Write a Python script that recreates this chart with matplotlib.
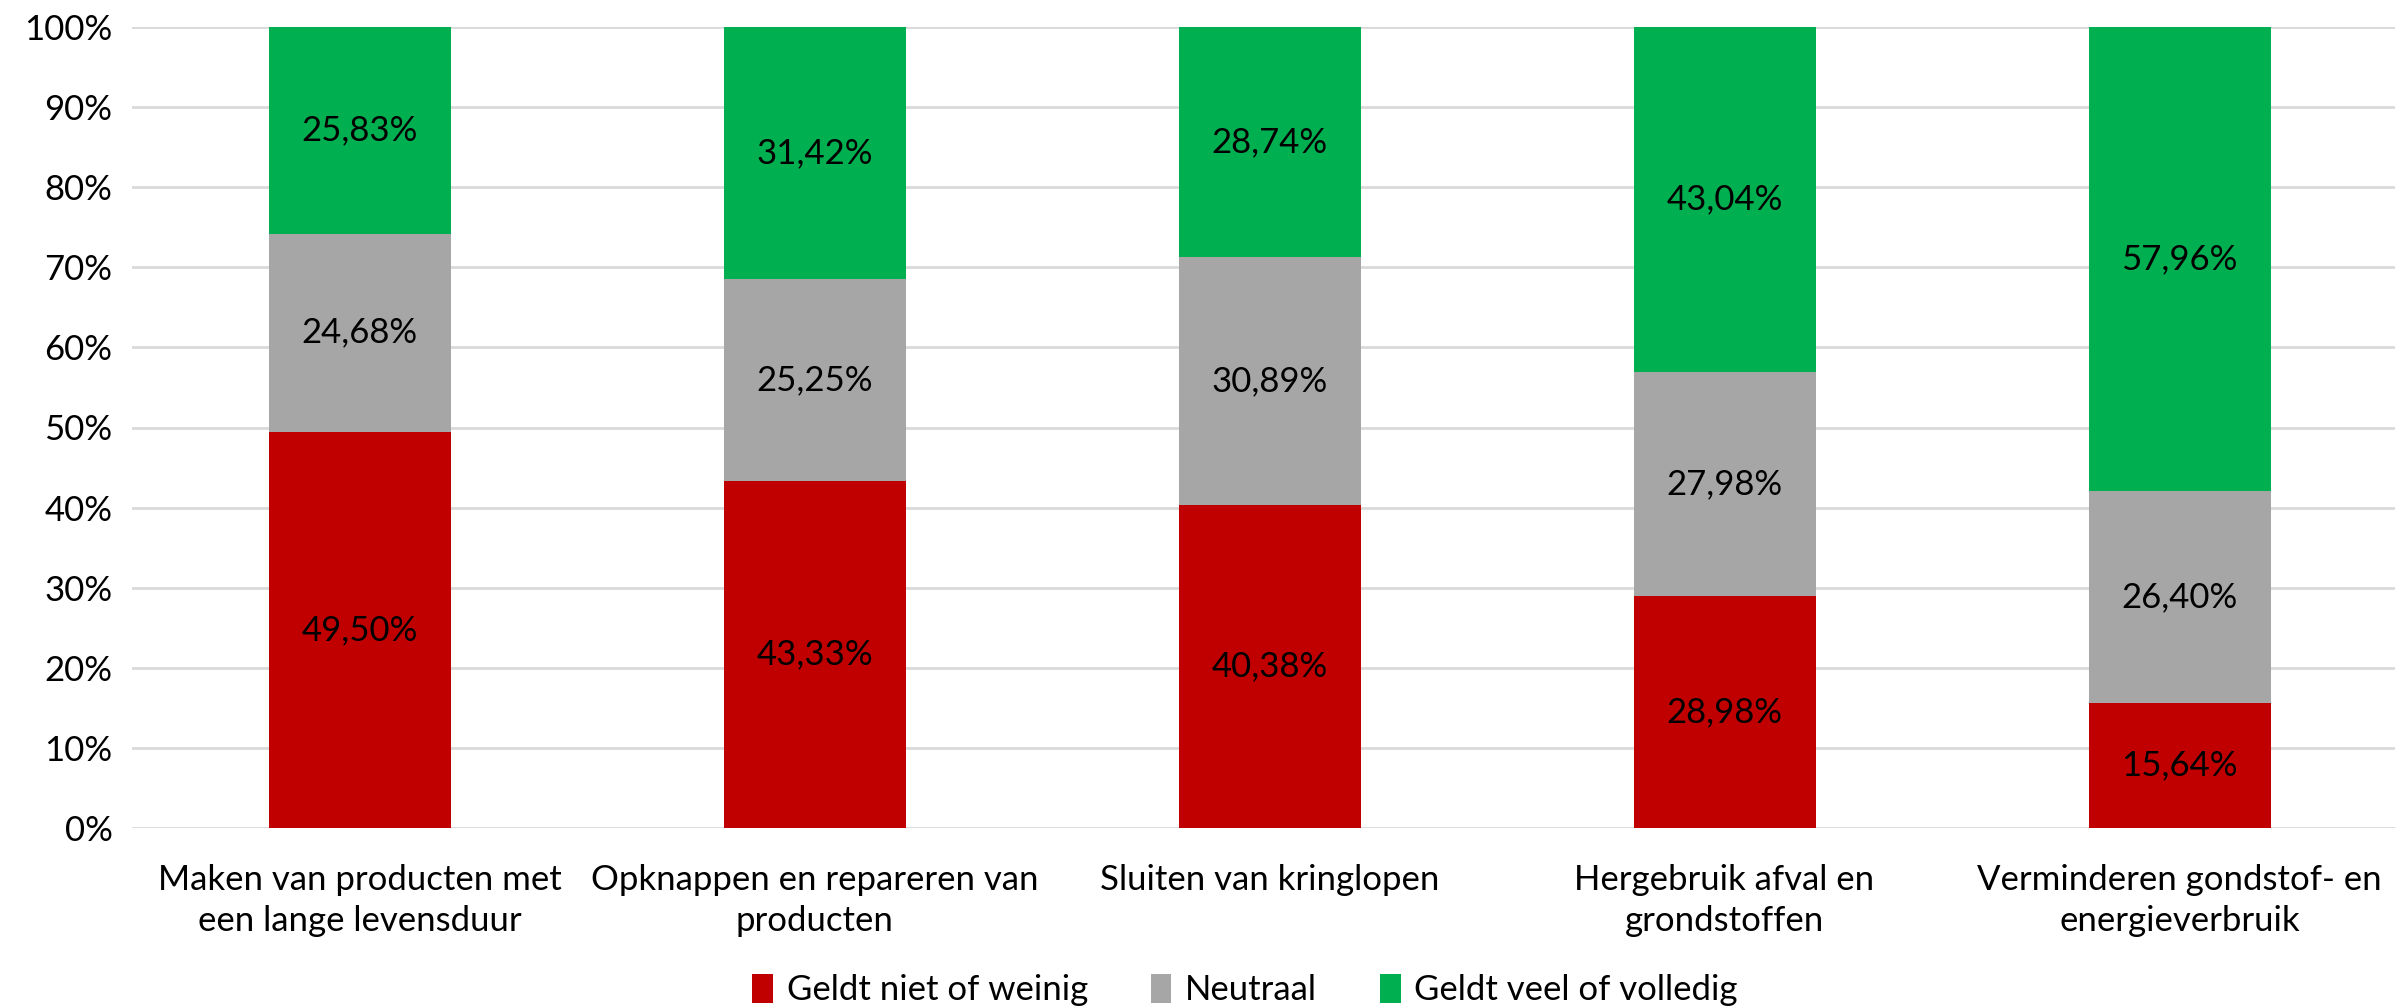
import matplotlib
matplotlib.use('Agg')
import matplotlib.pyplot as plt
import numpy as np

plt.rcParams['font.family'] = ['Lato', 'DejaVu Sans']

categories = ['Maken van producten met\neen lange levensduur',
              'Opknappen en repareren van\nproducten',
              'Sluiten van kringlopen',
              'Hergebruik afval en\ngrondstoffen',
              'Verminderen gondstof- en\nenergieverbruik']
niet_weinig = [49.50, 43.33, 40.38, 28.98, 15.64]
neutraal = [24.68, 25.25, 30.89, 27.98, 26.40]
veel_volledig = [25.83, 31.42, 28.74, 43.04, 57.96]
series_names = ['Geldt niet of weinig', 'Neutraal', 'Geldt veel of volledig']
colors = ['#C00000', '#A6A6A6', '#00B050']

fig = plt.figure(figsize=(23.95, 10.08), dpi=100)
ax = fig.add_axes([132/2395, 1-828/1008, (2407-132)/2395, (828-27)/1008])

x = np.arange(len(categories))
bottom = np.zeros(len(categories))
for vals, name, col in zip([niet_weinig, neutraal, veel_volledig], series_names, colors):
    vals = np.array(vals)
    ax.bar(x, vals, 0.4, bottom=bottom, color=col, label=name, zorder=2)
    for xi, b, v in zip(x, bottom, vals):
        ax.text(xi, b + v/2, f'{v:.2f}%'.replace('.', ','), ha='center', va='center',
                fontsize=25, color='black', zorder=3)
    bottom += vals

ax.set_xlim(-0.5, 4.5)
ax.set_ylim(0, 100)
ax.set_yticks(np.arange(0, 101, 10))
ax.set_yticklabels([f'{t}%' for t in range(0, 101, 10)], fontsize=25)
ax.set_xticks(x)
ax.set_xticklabels(categories, fontsize=25, linespacing=1.35)
ax.tick_params(axis='both', length=0)
ax.tick_params(axis='y', pad=14)
ax.tick_params(axis='x', pad=26)
ax.yaxis.grid(True, color='#D9D9D9', linewidth=2, zorder=0)
ax.set_axisbelow(True)
for s in ax.spines.values():
    s.set_visible(False)

fig.legend(loc='center', bbox_to_anchor=(1245/2395, 1-990/1008), ncol=3, frameon=False,
           fontsize=25, handlelength=0.6, handleheight=0.9, handletextpad=0.4, columnspacing=1.8)

fig.savefig('out.png', dpi=100)
